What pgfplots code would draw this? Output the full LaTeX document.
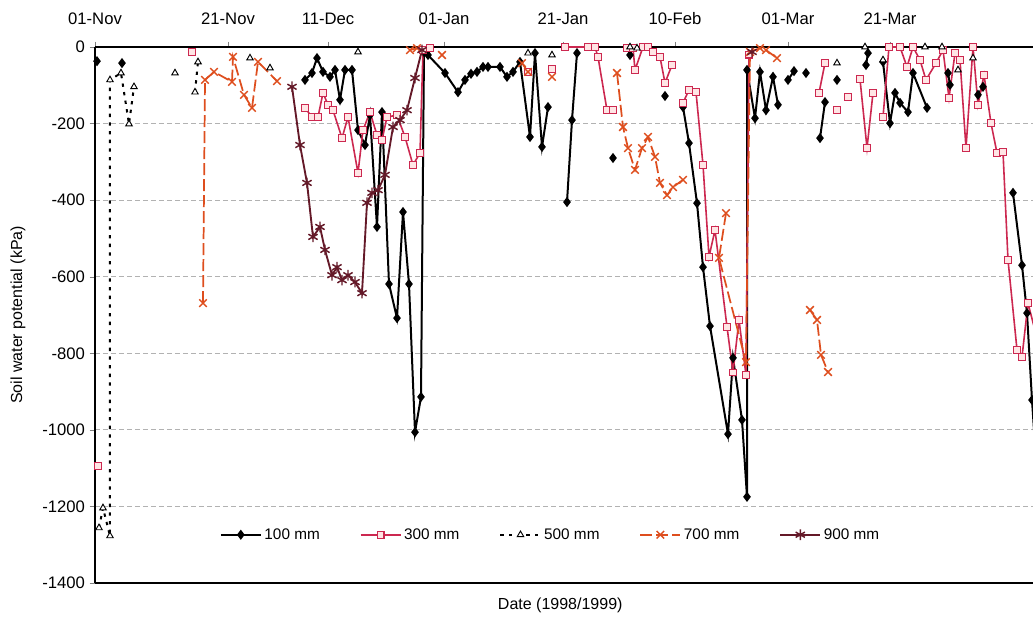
\documentclass[border=0pt]{standalone}
\usepackage{fontspec}
\setmainfont{Liberation Sans}
\usepackage{pgfplots}
\pgfplotsset{compat=1.18}
\definecolor{c300}{RGB}{204,40,80}
\definecolor{c700}{RGB}{222,78,30}
\definecolor{c900}{RGB}{100,25,40}
\begin{document}
\begin{tikzpicture}
\begin{axis}[
  scale only axis, width=703.5pt, height=402pt,
  xmin=95, xmax=1033, ymin=-1400, ymax=0,
  axis x line=box, axis y line=left, axis line style={-, black, line width=0.9pt},
  xtick={95,228,328,444,563,675,788,890},
  xticklabels={01-Nov,21-Nov,11-Dec,01-Jan,21-Jan,10-Feb,01-Mar,21-Mar},
  xtick pos=right, xticklabel pos=right,
  xticklabel style={anchor=base, yshift=13pt},
  ytick={-1400,-1200,...,0},
  ymajorgrids, major grid style={gray!60, dash pattern=on 4pt off 2pt, line width=0.6pt},
  tick align=outside, major tick length=4pt,
  tick label style={font=\fontsize{12.5}{14}\selectfont},
  /pgf/number format/assume math mode=true,
  /pgf/number format/set thousands separator={},
  every axis y label/.style={at={(rel axis cs:0,0.5)}, xshift=-57.75pt, rotate=90, anchor=center, font=\fontsize{12}{14}\selectfont},
  every axis x label/.style={at={(rel axis cs:0.496,0)}, anchor=center, yshift=-16.5pt, font=\fontsize{12}{14}\selectfont},
  ylabel={Soil water potential (kPa)}, xlabel={Date (1998/1999)},
  unbounded coords=jump,
  legend style={at={(0.486,0.09)}, anchor=center, draw=none, fill=none, legend columns=5,
    font=\fontsize{11.5}{13}\selectfont, /tikz/every even column/.append style={column sep=28pt}},
  legend image code/.code={\draw[mark repeat=2,mark phase=2,#1] plot coordinates {(0pt,0pt) (15pt,0pt) (30pt,0pt)};},
]
\coordinate (bl) at (rel axis cs:0,0);
\coordinate (tr) at (rel axis cs:1,1);
% 100 mm
\addplot[black, line width=1.5pt, mark=diamond*, mark size=2.6pt, mark options={solid}] coordinates {
(97,-37) (98,nan) (122,-42) (123,nan)
(305,-86) (312,-68) (317,-29) (323,-65) (330,-78) (335,-60) (340,-138) (345,-60) (352,-60)
(358,-217) (365,-256) (370,-178) (377,-470) (382,-170) (389,-619) (397,-708) (403,-431)
(409,-619) (415,-1006) (421,-914) (424,-13) (428,-21) (445,-68) (458,-118) (465,-86)
(471,-70) (477,-65) (483,-52) (488,-52) (500,-52) (507,-78) (513,-65) (520,-39)
(530,-235) (535,-16) (542,-261) (548,-157) (550,nan)
(567,-405) (572,-191) (577,-16) (580,nan)
(613,-290) (615,nan) (630,-21) (632,nan) (665,-128) (667,nan)
(683,-157) (689,-251) (697,-408) (703,-575) (710,-729) (728,-1011) (733,-812) (742,-974)
(747,-1175) (747,-60) (755,-186) (760,-65) (766,-165) (773,-78) (778,-151) (780,nan)
(788,-86) (794,-63) (796,nan) (806,-68) (808,nan) (820,-238) (825,-144) (827,nan)
(837,-86) (839,nan) (866,-47) (868,-16) (870,nan)
(883,-39) (890,-199) (895,-120) (900,-146) (908,-170) (913,-68) (927,-159) (930,nan)
(948,-68) (950,-99) (952,nan) (978,-125) (983,-104) (985,nan)
(1013,-381) (1022,-570) (1027,-695) (1032,-922) (1036,-1080)
};
\addlegendentry{100 mm}
% 300 mm
\addplot[c300, line width=1.2pt, mark=square*, mark size=2.5pt, mark options={solid, fill=pink!40, draw=c300, line width=0.8pt}] coordinates {
(98,-1094) (99,nan) (192,-13) (193,nan)
(305,-159) (312,-183) (318,-183) (323,-120) (328,-151) (333,-165) (342,-238) (348,-183)
(358,-329) (363,-217) (370,-170) (377,-230) (382,-243) (387,-183) (397,-178) (405,-235)
(413,-308) (420,-277) (423,-8) (430,-3) (432,nan)
(528,-65) (530,nan) (552,-57) (554,nan)
(565,0) (588,0) (595,0) (598,-26) (607,-165) (613,-165) (615,nan)
(627,-3) (633,-3) (635,-60) (643,0) (648,0) (653,-13) (660,-26) (665,-94) (672,-47) (675,nan)
(683,-146) (689,-112) (696,-118) (703,-308) (709,-548) (715,-478) (727,-731) (733,-850)
(739,-713) (746,-857) (749,-20) (750,nan)
(819,-120) (825,-42) (827,nan) (837,-165) (839,nan) (848,-131) (850,nan)
(860,-84) (867,-264) (873,-120) (875,nan)
(883,-183) (889,0) (900,0) (907,-52) (913,0) (920,-34) (926,-86) (936,-42) (943,-8)
(949,-133) (955,-16) (960,-34) (966,-264) (973,0) (978,-151) (984,-73) (991,-199)
(997,-277) (1003,-274) (1008,-556) (1017,-791) (1022,-810) (1028,-669) (1035,-740)
};
\addlegendentry{300 mm}
% 500 mm
\addplot[black, line width=1.5pt, dash pattern=on 2.5pt off 4pt, mark=triangle*, mark size=2.8pt, mark options={solid, fill=white, line width=0.7pt}] coordinates {
(99,-1256) (103,-1204) (110,-1277) (110,-86) (121,-68) (129,-201) (134,-104) (136,nan)
(175,-68) (177,nan) (195,-118) (198,-39) (200,nan) (250,-29) (252,nan) (270,-55) (272,nan)
(358,-13) (360,nan) (528,-16) (530,nan) (552,-21) (554,nan) (630,0) (637,-3) (639,nan)
(837,-42) (839,nan) (865,0) (867,nan) (883,-34) (885,nan) (925,0) (927,nan)
(942,0) (944,nan) (958,-60) (960,nan) (973,-29)
};
\addlegendentry{500 mm}
% 700 mm
\addplot[c700, line width=1.3pt, dash pattern=on 9pt off 3pt, mark=x, mark size=4pt, mark options={solid, line width=1.1pt}] coordinates {
(203,-669) (205,-86) (214,-65) (232,-91) (233,-26) (244,-125) (252,-159) (258,-39) (277,-89) (279,nan)
(410,-8) (417,-3) (419,nan) (442,-21) (444,nan) (522,-42) (528,-65) (530,nan) (552,-78) (554,nan)
(617,-68) (623,-209) (628,-264) (635,-321) (642,-264) (648,-235) (655,-287) (660,-355)
(667,-387) (673,-366) (683,-347) (685,nan)
(726,-434) (719,-551) (746,-823) (750,-13) (760,-3) (766,-8) (777,-29) (779,nan)
(810,-687) (817,-713) (821,-804) (828,-849)
};
\addlegendentry{700 mm}
% 900 mm
\addplot[c900, line width=1.4pt, mark=asterisk, mark size=4pt, mark options={solid, line width=1.1pt}] coordinates {
(292,-104) (300,-256) (307,-355) (313,-496) (320,-470) (325,-530) (332,-596) (337,-575)
(342,-609) (348,-596) (355,-614) (362,-643) (367,-407) (372,-381) (378,-374) (385,-334)
(393,-209) (400,-191) (407,-165) (415,-81) (422,-8) (424,nan) (752,-13)
};
\addlegendentry{900 mm}
\end{axis}
\pgfresetboundingbox
\path[use as bounding box] ([xshift=-71.25pt,yshift=-27pt]bl) rectangle ([yshift=35.25pt]tr);
\end{tikzpicture}
\end{document}
